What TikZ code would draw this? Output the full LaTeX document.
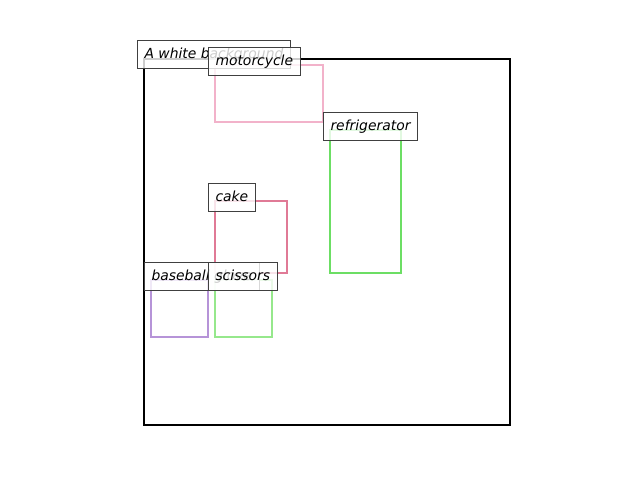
\documentclass[tikz,border=0pt]{standalone}
\usepackage{fontspec}
\setmainfont{DejaVu Sans}
\usepackage{tikz}
\usetikzlibrary{positioning}
\definecolor{motopink}{RGB}{242,178,202}
\definecolor{cakered}{RGB}{224,122,150}
\definecolor{fridgegreen}{RGB}{108,222,100}
\definecolor{scissgreen}{RGB}{150,232,140}
\definecolor{glovepurple}{RGB}{182,148,216}
\tikzstyle{tagbox} = [draw=black!75, line width=1pt, fill=white, fill opacity=0.8, text opacity=1, font=\fontsize{13.9}{16}\selectfont\itshape, text height=11pt, text depth=3pt, inner xsep=7pt, inner ysep=7pt, anchor=base west]
\tikzstyle{bbox} = [line width=2pt]

\begin{document}
\begin{tikzpicture}[x=1pt, y=-1pt]
\useasboundingbox (0,0) rectangle (640,480);
% image frame
\draw[line width=2pt] (144,59) rectangle (510,425);
% boxes
\draw[bbox, motopink] (215,65) rectangle (323,122);
\draw[bbox, fridgegreen] (330,130) rectangle (401,273);
\draw[bbox, cakered] (215,201) rectangle (287,273);
\draw[bbox, glovepurple] (151,280) rectangle (208,337);
\draw[bbox, scissgreen] (215,280) rectangle (272,337);
% labels
\node[tagbox] (caption) at (137,58) {A white background};
\node[tagbox] (moto) at (208,65) {motorcycle};
\node[tagbox] (fridge) at (323,130) {refrigerator};
\node[tagbox] (cake) at (208,201) {cake};
\node[tagbox] (glove) at (144,280) {baseball glove};
\node[tagbox] (sciss) at (208,280) {scissors};
\end{tikzpicture}
\end{document}
